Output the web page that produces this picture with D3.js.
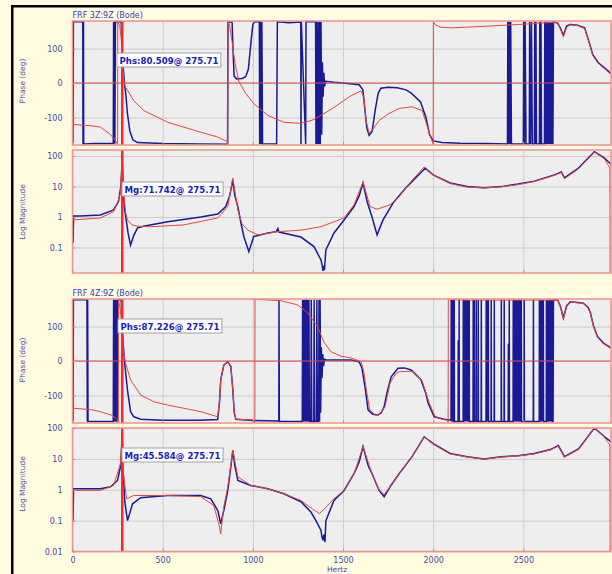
<!DOCTYPE html>
<html>
<head>
<meta charset="utf-8">
<script src="https://cdn.jsdelivr.net/npm/d3@7/dist/d3.min.js"></script>
<style>
  body { margin: 0; background: #fefbdf; }
  svg text { font-family: "DejaVu Sans", Verdana, sans-serif; }
</style>
</head>
<body>
<div id="chart"></div>
<script>
// x axis (Hertz)
var freqTicks = [0, 500, 1000, 1500, 2000, 2500];
var cursorHz = 275.71;

// y tick labels
var phaseTicks = [-100, 0, 100];
var mag1Ticks = [0.1, 1, 10, 100];
var mag2Ticks = [0.01, 0.1, 1, 10, 100];

// FRF 3Z:9Z phase, measured [Hz, deg]
var ph1Meas = [[0,-172],[3,-172],[5,178],[57,178],[58,-177],[59,178],[60,-177],[61,178],[62,-177],[120,-176],[226,-176],[228,178],[230,-176],[233,178],[235,-176],[238,178],[270,178],[276,80],[289,-5],[295,-30],[305,-90],[318,-140],[335,-165],[360,-173],[500,-176],[700,-177],[860,-178],[862,178],[885,176],[890,100],[896,20],[910,12],[940,13],[960,18],[975,40],[990,120],[1000,170],[1010,178],[1036,178],[1038,-177],[1042,178],[1046,-177],[1050,178],[1054,-177],[1132,-177],[1136,178],[1200,175],[1266,177],[1267,-177],[1269,178],[1293,-177],[1295,178],[1348,178],[1350,-177],[1353,178],[1358,-177],[1362,178],[1366,-177],[1370,178],[1374,-177],[1378,178],[1382,-150],[1386,60],[1390,-40],[1394,30],[1398,-10],[1404,5],[1450,2],[1500,0],[1550,-3],[1590,-5],[1610,-20],[1622,-80],[1632,-130],[1645,-152],[1662,-140],[1678,-80],[1695,-30],[1710,-15],[1750,-12],[1800,-14],[1850,-20],[1880,-30],[1930,-55],[1960,-100],[1980,-150],[2000,-168],[2050,-173],[2150,-175],[2300,-176],[2412,-177],[2414,178],[2418,-177],[2422,178],[2426,-177],[2430,178],[2434,-177],[2500,-177],[2502,178],[2506,-177],[2510,178],[2515,-177],[2533,-177],[2535,178],[2540,-177],[2545,178],[2550,-177],[2561,-177],[2563,178],[2567,-177],[2570,178],[2573,-177],[2589,-177],[2591,178],[2595,-177],[2598,178],[2601,-177],[2617,-177],[2619,178],[2622,-177],[2625,178],[2628,-177],[2631,178],[2634,-177],[2637,178],[2640,-177],[2643,178],[2646,-177],[2649,178],[2652,-177],[2655,178],[2658,-177],[2661,178],[2664,-177],[2667,178],[2690,174],[2705,160],[2722,138],[2740,165],[2760,170],[2800,168],[2840,160],[2870,110],[2885,82],[2917,58],[2950,44],[2980,30],[3000,20]];
// FRF 3Z:9Z phase, fit
var ph1Fit = [[0,-120],[100,-124],[155,-128],[211,-150],[240,-168],[250,-178],[251,178],[262,165],[270,130],[276,80],[283,20],[289,-7],[339,-51],[395,-80],[528,-114],[711,-143],[800,-156],[858,-170],[861,-178],[862,178],[870,170],[885,120],[900,60],[922,5],[960,-30],[1005,-60],[1083,-94],[1172,-114],[1267,-117],[1330,-108],[1378,-94],[1450,-71],[1544,-37],[1600,-23],[1615,-40],[1628,-110],[1645,-146],[1665,-135],[1700,-109],[1750,-90],[1811,-74],[1883,-69],[1939,-80],[1967,-125],[1985,-155],[1998,-175],[2000,-179],[2001,178],[2010,170],[2040,162],[2100,160],[2300,165],[2480,170],[2660,176],[2690,174],[2705,158],[2722,135],[2740,162],[2760,169],[2800,167],[2840,158],[2870,108],[2885,80],[2917,56],[2950,42],[2980,28],[3000,18]];

// FRF 3Z:9Z log magnitude, measured
var mag1Meas = [[3,0.14],[6,1.07],[44,1.08],[155,1.16],[228,1.7],[255,3.2],[268,9.9],[275.7,71.7],[282,6],[288,2],[294,1.16],[308,0.3],[322,0.12],[340,0.25],[361,0.44],[394,0.5],[528,0.7],[711,1.0],[806,1.25],[850,2.2],[872,5],[889,16],[900,5],[917,2.2],[935,0.6],[950,0.23],[978,0.073],[1005,0.23],[1083,0.3],[1130,0.33],[1139,0.42],[1145,0.32],[1211,0.26],[1267,0.22],[1339,0.107],[1378,0.039],[1385,0.025],[1389,0.017],[1393,0.025],[1397,0.018],[1405,0.083],[1450,0.3],[1506,0.8],[1561,2.2],[1590,5],[1611,13],[1635,3],[1661,1.0],[1689,0.26],[1722,0.8],[1778,2.9],[1855,9.9],[1928,27],[1956,40],[2000,24],[2094,13],[2189,10],[2283,9.1],[2378,9.9],[2472,12],[2561,15],[2672,24],[2711,30],[2728,19],[2806,40],[2894,138],[2950,86],[3000,45]];
// FRF 3Z:9Z log magnitude, fit
var mag1Fit = [[0,0.8],[155,0.93],[228,1.5],[250,3],[266,6],[275.7,100],[285,5],[296,1.3],[305,0.8],[330,0.55],[361,0.5],[433,0.48],[617,0.55],[806,0.93],[861,2.2],[889,19],[917,1.7],[940,0.6],[972,0.37],[1028,0.26],[1139,0.33],[1267,0.37],[1378,0.48],[1506,0.93],[1561,2.5],[1611,14],[1650,2.2],[1689,1.8],[1761,2.5],[1811,4.6],[1883,16],[1950,44],[2000,24],[2094,12.5],[2189,9.5],[2283,9],[2378,9.8],[2472,11.5],[2561,14.5],[2672,23],[2711,29],[2728,18],[2806,38],[2894,135],[2950,80],[2980,40],[2982,0.0001]];

// FRF 4Z:9Z phase, measured
var ph2Meas = [[0,-172],[3,-172],[5,178],[80,178],[82,-176],[84,178],[86,-176],[226,-176],[228,178],[231,-176],[234,178],[237,-176],[240,178],[243,-176],[246,178],[249,-176],[252,178],[270,178],[276,87],[289,-5],[305,-85],[322,-147],[340,-162],[378,-169],[500,-172],[700,-172],[805,-170],[815,-120],[822,-55],[839,-12],[861,-2],[878,-16],[889,-84],[897,-150],[906,-169],[1000,-173],[1144,-174],[1145,178],[1147,-176],[1274,-176],[1276,178],[1280,-176],[1283,178],[1287,-176],[1290,178],[1294,-176],[1297,178],[1301,-176],[1304,178],[1308,-176],[1311,178],[1314,-176],[1322,-176],[1324,178],[1327,-176],[1338,-176],[1340,178],[1343,-176],[1353,-176],[1355,178],[1358,-176],[1365,-176],[1367,178],[1370,-176],[1373,178],[1376,-150],[1380,40],[1384,-50],[1388,20],[1392,-15],[1398,5],[1406,3],[1480,3],[1544,3],[1589,-2],[1605,-20],[1622,-75],[1639,-142],[1665,-155],[1694,-157],[1712,-150],[1728,-133],[1745,-90],[1767,-46],[1805,-21],[1840,-20],[1878,-26],[1933,-55],[1960,-95],[1972,-122],[2006,-162],[2061,-169],[2099,-172],[2100,178],[2102,-176],[2104,178],[2106,-176],[2108,178],[2110,-176],[2112,178],[2113,-176],[2116,-176],[2117,178],[2118,-176],[2138,-176],[2139,60],[2140,-176],[2143,-176],[2144,178],[2145,-176],[2166,-176],[2167,178],[2169,-176],[2172,178],[2174,-176],[2176,178],[2178,-176],[2180,178],[2182,-176],[2184,178],[2186,-176],[2188,178],[2190,-176],[2192,178],[2194,-176],[2196,178],[2198,-176],[2200,178],[2201,-176],[2221,-176],[2222,178],[2223,-176],[2227,-176],[2228,178],[2229,-176],[2238,-176],[2239,178],[2240,-176],[2249,-176],[2250,178],[2251,-176],[2266,-176],[2267,178],[2268,-176],[2293,-176],[2294,178],[2296,-176],[2298,178],[2300,-176],[2302,178],[2304,-176],[2306,178],[2307,-176],[2321,-176],[2322,178],[2323,-176],[2338,-176],[2339,178],[2340,-176],[2377,-176],[2378,178],[2379,-176],[2393,-176],[2394,178],[2395,-176],[2416,-176],[2417,50],[2418,-176],[2421,-176],[2422,178],[2423,-176],[2443,-176],[2444,178],[2446,-176],[2448,178],[2450,-176],[2453,178],[2455,-176],[2458,178],[2460,-176],[2462,178],[2464,-176],[2467,178],[2469,-176],[2472,178],[2474,-176],[2478,178],[2480,-176],[2483,178],[2485,-176],[2489,178],[2490,-176],[2504,-176],[2505,178],[2506,-176],[2555,-176],[2556,178],[2557,-176],[2588,-176],[2589,178],[2591,-176],[2594,178],[2596,-176],[2600,178],[2602,-176],[2605,178],[2607,-176],[2611,178],[2612,-176],[2627,-176],[2628,178],[2630,-176],[2633,178],[2635,-176],[2638,178],[2640,-176],[2644,178],[2646,-176],[2649,178],[2651,-176],[2655,178],[2657,-176],[2660,178],[2662,-176],[2665,-176],[2667,178],[2690,177],[2705,160],[2722,125],[2740,160],[2761,172],[2800,170],[2833,168],[2860,155],[2872,140],[2890,100],[2911,71],[2944,52],[2975,42],[3000,32]];
// FRF 4Z:9Z phase, fit
var ph2Fit = [[0,-137],[100,-141],[155,-147],[220,-158],[250,-170],[254,-178],[255,178],[265,150],[276,87],[285,20],[294,-5],[322,-55],[378,-99],[450,-118],[528,-128],[711,-147],[805,-162],[815,-120],[822,-55],[839,-12],[861,-2],[878,-16],[889,-84],[897,-150],[906,-169],[1000,-171],[1008,-173],[1011,-179],[1012,178],[1026,179],[1156,175],[1248,163],[1304,140],[1359,100],[1394,55],[1433,27],[1489,14],[1544,9],[1600,-2],[1615,-30],[1630,-85],[1648,-142],[1680,-157],[1700,-156],[1733,-133],[1761,-64],[1790,-38],[1811,-31],[1883,-30],[1939,-58],[1978,-122],[2011,-162],[2050,-169],[2080,-172],[2083,-179],[2084,178],[2200,177],[2400,177],[2660,177],[2690,176],[2705,158],[2722,122],[2740,158],[2761,171],[2800,169],[2833,167],[2860,153],[2872,138],[2890,98],[2911,69],[2944,50],[2975,40],[3000,30]];

// FRF 4Z:9Z log magnitude, measured
var mag2Meas = [[3,0.1],[6,1.07],[155,1.07],[211,1.25],[250,2],[266,5.6],[275.7,45.6],[280,5],[290,0.41],[305,0.1],[333,0.35],[378,0.55],[528,0.65],[711,0.65],[767,0.51],[806,0.21],[822,0.079],[839,0.21],[861,0.95],[875,4],[889,19],[900,6],[917,2],[989,1.38],[1083,1.07],[1172,0.74],[1267,0.41],[1322,0.19],[1350,0.1],[1378,0.048],[1383,0.03],[1389,0.023],[1394,0.035],[1400,0.02],[1405,0.1],[1450,0.45],[1506,0.95],[1561,3.3],[1590,8],[1611,25],[1640,6],[1661,3.3],[1700,0.95],[1728,0.6],[1761,1.25],[1811,3.3],[1883,11.8],[1950,52],[2000,31],[2094,15],[2189,11.8],[2283,10],[2378,11.8],[2472,12.7],[2561,15],[2650,20],[2694,27],[2728,11.8],[2806,21],[2894,100],[2950,52],[3000,31]];
// FRF 4Z:9Z log magnitude, fit
var mag2Fit = [[0,0.95],[155,0.95],[228,1.38],[266,7],[275.7,100],[283,3],[300,0.51],[339,0.65],[528,0.65],[711,0.6],[783,0.31],[811,0.079],[822,0.037],[839,0.28],[861,1.25],[889,19],[917,2.6],[989,1.38],[1083,1.07],[1172,0.74],[1267,0.45],[1330,0.24],[1369,0.17],[1400,0.25],[1450,0.51],[1506,0.95],[1561,3.3],[1611,25],[1661,3.3],[1700,1.0],[1728,0.7],[1761,1.25],[1811,3.3],[1883,11.8],[1950,52],[2000,30],[2094,14.5],[2189,11.5],[2283,9.8],[2378,11.5],[2472,12.5],[2561,14.5],[2650,19.5],[2694,26],[2728,11.5],[2806,20],[2894,100],[2950,50],[2980,28],[2982,0.0001]];

function BodeChart() {
  var w = 612;
  var h = 574;
  var plotLeft = 72.5;
  var plotRight = 611;

  var svg = d3.select("#chart")
    .append("svg")
    .attr("width", w)
    .attr("height", h);

  svg.append("rect")
    .attr("width", w)
    .attr("height", h)
    .attr("fill", "#fefbdf");

  // black window edges
  svg.append("rect").attr("x", 11).attr("y", 5).attr("width", w - 11).attr("height", 2.5).attr("fill", "#000");
  svg.append("rect").attr("x", 11).attr("y", 5).attr("width", 2.5).attr("height", h - 5).attr("fill", "#000");

  var xScale = d3.scaleLinear()
    .domain([0, 3000])
    .range([plotLeft, 613.5]);

  var panels = [
    {top: 21, bottom: 145, kind: "phase", meas: ph1Meas, fit: ph1Fit, ticks: phaseTicks,
     label: "Phase (deg)", labelY: 81, title: "FRF 3Z:9Z (Bode)", titleY: 18,
     note: "Phs:80.509@ 275.71", noteX: 117, noteY: 53},
    {top: 150, bottom: 273, kind: "mag", domain: [0.0146, 157], meas: mag1Meas, fit: mag1Fit, ticks: mag1Ticks,
     label: "Log Magnitude", labelY: 212,
     note: "Mg:71.742@ 275.71", noteX: 122, noteY: 182},
    {top: 299, bottom: 423, kind: "phase", meas: ph2Meas, fit: ph2Fit, ticks: phaseTicks,
     label: "Phase (deg)", labelY: 360, title: "FRF 4Z:9Z (Bode)", titleY: 296,
     note: "Phs:87.226@ 275.71", noteX: 118, noteY: 319},
    {top: 428, bottom: 551.5, kind: "mag", domain: [0.01, 100], meas: mag2Meas, fit: mag2Fit, ticks: mag2Ticks,
     label: "Log Magnitude", labelY: 484,
     note: "Mg:45.584@ 275.71", noteX: 122, noteY: 448, showX: true}
  ];

  panels.forEach(function(p, i) {
    var yScale;
    if (p.kind == "phase") {
      yScale = d3.scaleLinear().domain([-180, 180]).range([p.bottom, p.top]);
    } else {
      yScale = d3.scaleLog().domain(p.domain).range([p.bottom, p.top]);
    }

    var g = svg.append("g");

    g.append("clipPath")
      .attr("id", "clip" + i)
      .append("rect")
      .attr("x", plotLeft)
      .attr("y", p.top)
      .attr("width", plotRight - plotLeft)
      .attr("height", p.bottom - p.top);

    // plot background
    g.append("rect")
      .attr("x", plotLeft)
      .attr("y", p.top)
      .attr("width", plotRight - plotLeft)
      .attr("height", p.bottom - p.top)
      .attr("fill", "#eeeeee");

    // grid
    g.append("g")
      .attr("transform", "translate(0," + p.bottom + ")")
      .call(d3.axisBottom(xScale).tickValues(freqTicks.slice(1)).tickSize(-(p.bottom - p.top)).tickFormat(""))
      .call(function(a) {
        a.select(".domain").remove();
        a.selectAll("line").attr("stroke", "#cbcbcb");
      });
    g.append("g")
      .attr("transform", "translate(" + plotLeft + ",0)")
      .call(d3.axisLeft(yScale).tickValues(p.ticks).tickSize(-(plotRight - plotLeft)).tickFormat(""))
      .call(function(a) {
        a.select(".domain").remove();
        a.selectAll("line").attr("stroke", "#cbcbcb");
      });

    var line = d3.line()
      .x(function(d) { return xScale(d[0]); })
      .y(function(d) { return yScale(d[1]); });

    var curves = g.append("g").attr("clip-path", "url(#clip" + i + ")");

    //Draw measured (blue)
    curves.append("path")
      .datum(p.meas)
      .attr("d", line)
      .attr("fill", "none")
      .attr("stroke", "#1a1a96")
      .attr("stroke-width", 1.5);

    //Draw fit (red)
    curves.append("path")
      .datum(p.fit)
      .attr("d", line)
      .attr("fill", "none")
      .attr("stroke", "#e8453f")
      .attr("stroke-width", 1);

    // zero phase line
    if (p.kind == "phase") {
      g.append("line")
        .attr("x1", plotLeft).attr("x2", plotRight)
        .attr("y1", yScale(0)).attr("y2", yScale(0))
        .attr("stroke", "#e04a4a")
        .attr("stroke-width", 1);
    }

    // cursor
    g.append("line")
      .attr("x1", xScale(cursorHz)).attr("x2", xScale(cursorHz))
      .attr("y1", p.top).attr("y2", p.bottom)
      .attr("stroke", "#ff2626")
      .attr("stroke-width", 2.5);

    // frame
    g.append("rect")
      .attr("x", plotLeft)
      .attr("y", p.top)
      .attr("width", plotRight - plotLeft)
      .attr("height", p.bottom - p.top)
      .attr("fill", "none")
      .attr("stroke", "#f09090")
      .attr("stroke-width", 1.5);

    //Draw yAxis labels
    g.append("g")
      .attr("transform", "translate(" + plotLeft + ",0)")
      .call(d3.axisLeft(yScale).tickValues(p.ticks).tickSize(-3).tickPadding(10)
        .tickFormat(function(d) { return String(d); }))
      .call(function(a) {
        a.select(".domain").remove();
        a.selectAll("line").attr("stroke", "#f08080");
        a.selectAll("text").attr("fill", "#4848b4").style("font-size", "8px")
          .style("font-family", "DejaVu Sans, sans-serif");
      });

    //Draw xAxis
    var xa = g.append("g")
      .attr("transform", "translate(0," + p.bottom + ")")
      .call(d3.axisBottom(xScale).tickValues(freqTicks).tickSize(-3).tickPadding(6)
        .tickFormat(p.showX ? function(d) { return String(d); } : ""));
    xa.select(".domain").remove();
    xa.selectAll("line").attr("stroke", "#f08080");
    xa.selectAll("text").attr("fill", "#4848b4").style("font-size", "8px")
      .style("font-family", "DejaVu Sans, sans-serif");

    // axis title
    g.append("text")
      .attr("text-anchor", "middle")
      .attr("transform", "translate(25," + p.labelY + ") rotate(-90)")
      .attr("fill", "#5050c0")
      .style("font-size", "7.5px")
      .text(p.label);

    if (p.title) {
      g.append("text")
        .attr("x", plotLeft)
        .attr("y", p.titleY)
        .attr("fill", "#3c3cc0")
        .style("font-size", "8px")
        .text(p.title);
    }

    // cursor readout box
    var box = g.append("rect")
      .attr("x", p.noteX)
      .attr("y", p.noteY)
      .attr("height", 14)
      .attr("fill", "#ffffff")
      .attr("stroke", "#a0a0a8")
      .attr("stroke-width", 1);
    var note = g.append("text")
      .attr("x", p.noteX + 2.5)
      .attr("y", p.noteY + 10.5)
      .attr("fill", "#1a1ac8")
      .style("font-size", "8.6px")
      .style("font-weight", "bold")
      .text(p.note);
    box.attr("width", note.node().getComputedTextLength() + 5);
  });

  // Hertz label
  svg.append("text")
    .attr("x", 337)
    .attr("y", 572)
    .attr("text-anchor", "middle")
    .attr("fill", "#4848b4")
    .style("font-size", "7.5px")
    .text("Hertz");
}

window.onload = function () {
  BodeChart();
};
</script>
</body>
</html>
